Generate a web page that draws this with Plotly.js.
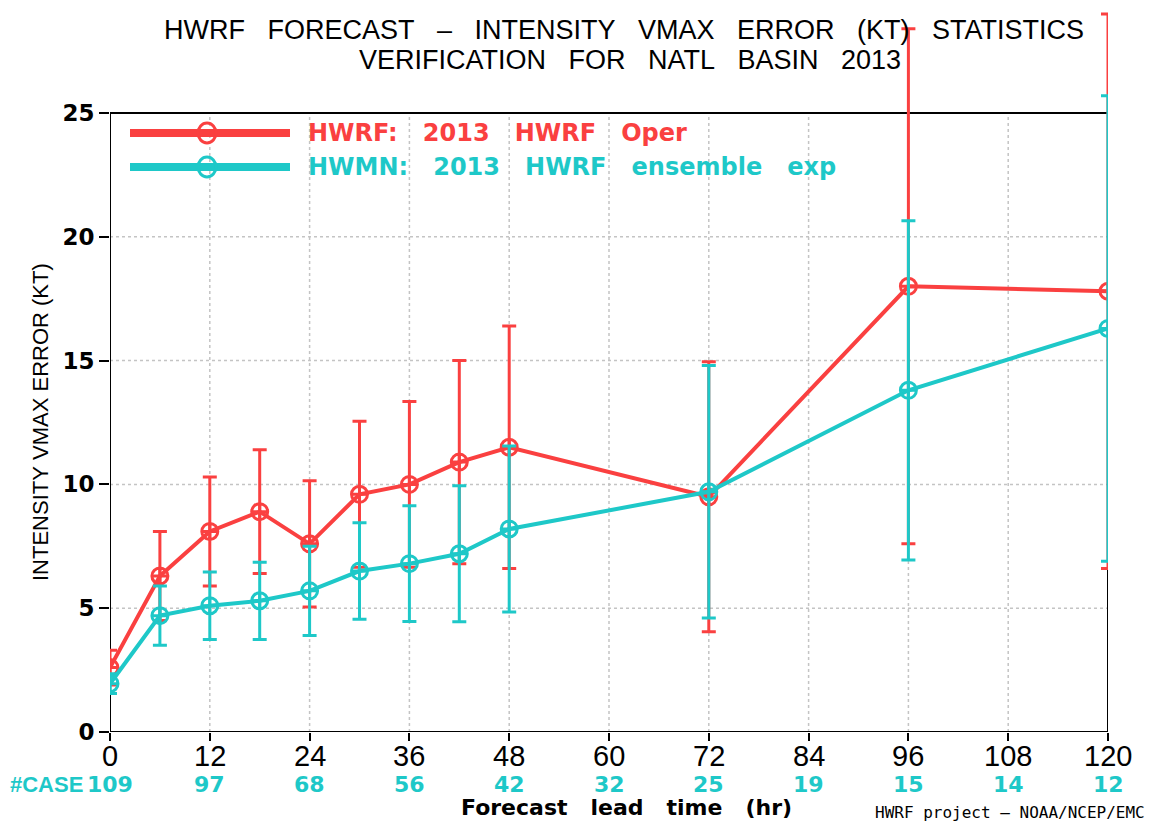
<!DOCTYPE html>
<html>
<head>
<meta charset="utf-8">
<script src="https://cdn.plot.ly/plotly-3.0.1.min.js"></script>
<style>
  html, body { margin: 0; padding: 0; background: #fff; }
  #chart { width: 1153px; height: 822px; }
</style>
</head>
<body>
<div id="chart"></div>
<script>
// Forecast lead times (hr)
const leadTimes = [0, 6, 12, 18, 24, 30, 36, 42, 48, 72, 96, 120];

// HWRF 2013 operational: mean intensity error (kt) and its spread
const hwrfMean   = [2.6, 6.3, 8.1, 8.9, 7.6, 9.6, 10.0, 10.9, 11.5, 9.5, 18.0, 17.8];
const hwrfSpread = [0.7, 1.8, 2.2, 2.5, 2.55, 2.95, 3.35, 4.1, 4.9, 5.45, 10.4, 11.2];

// HWMN 2013 HWRF ensemble experiment
const hwmnMean   = [1.95, 4.7, 5.1, 5.3, 5.7, 6.5, 6.8, 7.2, 8.2, 9.7, 13.8, 16.3];
const hwmnSpread = [0.4, 1.2, 1.36, 1.56, 1.8, 1.95, 2.34, 2.75, 3.35, 5.1, 6.85, 9.4];

// X ticks (hr) and verification case counts at each
const tickHours  = [0, 12, 24, 36, 48, 60, 72, 84, 96, 108, 120];
const caseCounts = [109, 97, 68, 56, 42, 32, 25, 19, 15, 14, 12];
const yTicks     = [0, 5, 10, 15, 20, 25];

const SP = '\u00a0\u00a0\u00a0';
const seriesNames = ['HWRF:' + SP + '2013' + SP + 'HWRF' + SP + 'Oper',
                     'HWMN:' + SP + '2013' + SP + 'HWRF' + SP + 'ensemble' + SP + 'exp'];
const titleLines = ['HWRF FORECAST \u2013 INTENSITY VMAX ERROR (KT) STATISTICS',
                    'VERIFICATION FOR NATL BASIN 2013'];

const RED  = 'rgb(250,64,64)';
const CYAN = 'rgb(30,200,200)';

// The frame spans 0..25 kt; the plotting area reaches higher so the
// long spread bars at 96 h and 120 h can run past the frame top.
const frameTop = 25;
const M = { l: 110, r: 45, t: 2, b: 90 };
const W = 1153, H = 822;
const PW = W - M.l - M.r, PH = H - M.t - M.b;
const framePx = 619;                       // frame height in pixels
const yMax = frameTop * PH / framePx;
const px = v => (v - M.l) / PW;
const py = v => (H - M.b - v) / PH;

function series(x, y, err, color, name) {
  return {
    x: x, y: y, name: name, type: 'scatter', mode: 'lines+markers',
    showlegend: false,
    line: { color: color, width: 4 },
    marker: { symbol: 'circle-cross-open', size: 16, color: color, line: { width: 3, color: color } },
    error_y: { type: 'data', array: err, visible: true, color: color, thickness: 3, width: 7 }
  };
}

const traces = [
  series(leadTimes, hwrfMean, hwrfSpread, RED, seriesNames[0]),
  series(leadTimes, hwmnMean, hwmnSpread, CYAN, seriesNames[1])
];

const shapes = [];
const annotations = [];

// Dotted grid inside the frame
tickHours.forEach(h => {
  if (h === 0 || h === 120) return;
  shapes.push({ type: 'line', xref: 'x', yref: 'y', layer: 'below',
    x0: h, x1: h, y0: 0, y1: frameTop,
    line: { color: '#c4c4c4', width: 1.5, dash: 'dot' } });
});
yTicks.forEach(v => {
  if (v === 0 || v === frameTop) return;
  shapes.push({ type: 'line', xref: 'x', yref: 'y', layer: 'below',
    x0: 0, x1: 120, y0: v, y1: v,
    line: { color: '#c4c4c4', width: 1.5, dash: 'dot' } });
});
// Frame
shapes.push({ type: 'rect', xref: 'x', yref: 'y', layer: 'below',
  x0: 0, x1: 120, y0: 0, y1: frameTop,
  line: { color: '#000', width: 2 }, fillcolor: 'rgba(0,0,0,0)' });

// Legend block in the upper-left of the frame
const legendRows = [
  { name: seriesNames[0], color: RED,  y: 133 },
  { name: seriesNames[1], color: CYAN, y: 167 }
];
legendRows.forEach(r => {
  shapes.push({ type: 'line', xref: 'paper', yref: 'paper',
    x0: px(130), x1: px(290), y0: py(r.y), y1: py(r.y),
    line: { color: r.color, width: 8 } });
  shapes.push({ type: 'circle', xref: 'paper', yref: 'paper',
    x0: px(198), x1: px(216), y0: py(r.y + 10), y1: py(r.y - 10),
    line: { color: r.color, width: 3 }, fillcolor: 'rgba(0,0,0,0)' });
  annotations.push({ xref: 'paper', yref: 'paper', x: px(306), y: py(r.y),
    xanchor: 'left', yanchor: 'middle', showarrow: false, text: r.name,
    font: { family: 'DejaVu Sans', size: 24, weight: 'bold', color: r.color } });
});

// Two-line title
titleLines.forEach((t, i) => {
  annotations.push({ xref: 'paper', yref: 'paper', x: px(i === 0 ? 624 : 630), y: py(30 + 30 * i),
    xanchor: 'center', yanchor: 'middle', showarrow: false,
    text: t.split(' ').join(SP),
    font: { family: 'Liberation Sans', size: 27, color: '#000' } });
});

// X tick labels and case counts beneath them
tickHours.forEach((h, i) => {
  annotations.push({ xref: 'x', yref: 'paper', x: h, y: py(756),
    xanchor: 'center', yanchor: 'middle', showarrow: false, text: String(h),
    font: { family: 'Liberation Sans', size: 29, color: '#000' } });
  annotations.push({ xref: 'x', yref: 'paper', x: h, y: py(784),
    xanchor: 'center', yanchor: 'middle', showarrow: false, text: String(caseCounts[i]),
    font: { family: 'DejaVu Sans', size: 22, weight: 'bold', color: CYAN } });
});
annotations.push({ xref: 'paper', yref: 'paper', x: px(85), y: py(784),
  xanchor: 'right', yanchor: 'middle', showarrow: false, text: '#CASE',
  font: { family: 'Liberation Sans', size: 22, weight: 'bold', color: CYAN } });

// Axis titles and credit line
annotations.push({ xref: 'paper', yref: 'paper', x: px(626), y: py(807),
  xanchor: 'center', yanchor: 'middle', showarrow: false,
  text: ['Forecast', 'lead', 'time', '(hr)'].join(SP),
  font: { family: 'DejaVu Sans', size: 22, weight: 'bold', color: '#000' } });
annotations.push({ xref: 'paper', yref: 'paper', x: px(40), y: py(422),
  xanchor: 'center', yanchor: 'middle', showarrow: false, textangle: -90,
  text: 'INTENSITY\u00a0VMAX\u00a0ERROR\u00a0(KT)',
  font: { family: 'Liberation Sans', size: 22, color: '#000' } });
annotations.push({ xref: 'paper', yref: 'paper', x: px(1147), y: py(812),
  xanchor: 'right', yanchor: 'middle', showarrow: false,
  text: 'HWRF project \u2013 NOAA/NCEP/EMC',
  font: { family: 'DejaVu Sans Mono', size: 16, color: '#000' } });

const layout = {
  width: W, height: H,
  margin: M,
  paper_bgcolor: '#fff', plot_bgcolor: '#fff',
  showlegend: false,
  xaxis: {
    range: [0, 120], tickmode: 'array', tickvals: tickHours, showticklabels: false,
    ticks: 'outside', ticklen: 8, tickwidth: 2, tickcolor: '#000',
    showline: false, showgrid: false, zeroline: false
  },
  yaxis: {
    range: [0, yMax], tickmode: 'array', tickvals: yTicks,
    ticks: 'outside', ticklen: 10, tickwidth: 2, tickcolor: '#000',
    showline: false, showgrid: false, zeroline: false,
    tickfont: { family: 'DejaVu Sans', size: 23, weight: 'bold', color: '#000' }
  },
  shapes: shapes,
  annotations: annotations
};

Plotly.newPlot('chart', traces, layout, { staticPlot: true, displayModeBar: false });
</script>
</body>
</html>
